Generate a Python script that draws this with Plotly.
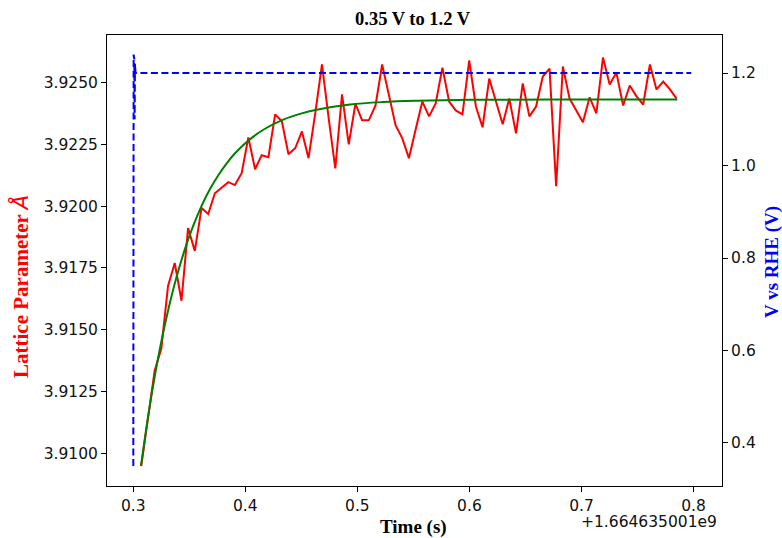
import plotly.graph_objects as go

# ---- data (time relative to offset +1.664635001e9 s) ----
lat_time = [0.3071, 0.3131, 0.3191, 0.3250, 0.3310, 0.3370, 0.3430, 0.3489, 0.3549, 0.3609,
            0.3669, 0.3728, 0.3788, 0.3848, 0.3907, 0.3967, 0.4027, 0.4087, 0.4146, 0.4206,
            0.4266, 0.4326, 0.4385, 0.4445, 0.4505, 0.4564, 0.4624, 0.4684, 0.4744, 0.4803,
            0.4863, 0.4923, 0.4983, 0.5042, 0.5102, 0.5162, 0.5221, 0.5281, 0.5341, 0.5401,
            0.5460, 0.5520, 0.5580, 0.5640, 0.5699, 0.5759, 0.5819, 0.5878, 0.5938, 0.5998,
            0.6058, 0.6117, 0.6177, 0.6237, 0.6297, 0.6356, 0.6416, 0.6476, 0.6535, 0.6595,
            0.6655, 0.6715, 0.6774, 0.6834, 0.6894, 0.6954, 0.7013, 0.7073, 0.7133, 0.7192,
            0.7252, 0.7312, 0.7372, 0.7431, 0.7491, 0.7551, 0.7611, 0.7670, 0.7730, 0.7790,
            0.7849]
lattice = [3.90948, 3.91141, 3.91335, 3.91423, 3.91677, 3.91770, 3.91617, 3.91911, 3.91819, 3.91992,
           3.91968, 3.92052, 3.92073, 3.92097, 3.92085, 3.92133, 3.92278, 3.92149, 3.92206, 3.92198,
           3.92371, 3.92343, 3.92210, 3.92234, 3.92302, 3.92194, 3.92375, 3.92573, 3.92355, 3.92153,
           3.92452, 3.92250, 3.92415, 3.92347, 3.92347, 3.92407, 3.92573, 3.92452, 3.92327, 3.92274,
           3.92194, 3.92310, 3.92423, 3.92363, 3.92415, 3.92560, 3.92423, 3.92387, 3.92371, 3.92589,
           3.92403, 3.92319, 3.92516, 3.92423, 3.92331, 3.92435, 3.92294, 3.92496, 3.92363, 3.92403,
           3.92524, 3.92556, 3.92081, 3.92565, 3.92435, 3.92387, 3.92339, 3.92440, 3.92375, 3.92601,
           3.92492, 3.92540, 3.92407, 3.92488, 3.92444, 3.92411, 3.92573, 3.92472, 3.92504, 3.92472,
           3.92435]

fit_time = [0.30687, 0.31312, 0.31937, 0.32517, 0.33097, 0.33811, 0.34614, 0.35328, 0.36105,
            0.36846, 0.37560, 0.38318, 0.39077, 0.40568, 0.41907, 0.43388, 0.44879, 0.46369,
            0.49342, 0.52287, 0.55295, 0.60052, 0.67192, 0.78554]
fit_lattice = [3.90949, 3.91146, 3.91317, 3.91456, 3.91576, 3.91705, 3.91827, 3.91918, 3.92002,
               3.92069, 3.92123, 3.92172, 3.92214, 3.92276, 3.92317, 3.92350, 3.92373, 3.92390,
               3.92411, 3.92421, 3.92426, 3.92430, 3.92431, 3.92431]

volt_time = [0.3000, 0.3003, 0.3006, 0.3009, 0.3012, 0.3015, 0.3020, 0.3040, 0.7980]
voltage = [0.35, 1.24, 1.08, 1.23, 1.10, 1.22, 1.20, 1.20, 1.20]

left_ticks = [3.9100, 3.9125, 3.9150, 3.9175, 3.9200, 3.9225, 3.9250]
right_ticks = [0.4, 0.6, 0.8, 1.0, 1.2]
x_ticks = [0.3, 0.4, 0.5, 0.6, 0.7, 0.8]

SERIF = "Liberation Serif, Times New Roman, serif"
SANS = "DejaVu Sans, sans-serif"

fig = go.Figure()
fig.add_trace(go.Scatter(x=lat_time, y=lattice, mode="lines",
                         line=dict(color="#ff0000", width=2), yaxis="y"))
fig.add_trace(go.Scatter(x=fit_time, y=fit_lattice, mode="lines", line_shape="spline",
                         line=dict(color="#008000", width=2), yaxis="y"))
fig.add_trace(go.Scatter(x=volt_time, y=voltage, mode="lines",
                         line=dict(color="#0000ff", width=2, dash="7px,3.5px"), yaxis="y2"))

axis_common = dict(showgrid=False, zeroline=False, showline=True, linecolor="#000000",
                   linewidth=1, ticks="outside", ticklen=5, tickwidth=1, tickcolor="#000000",
                   tickfont=dict(family=SANS, size=15.5, color="#111111"))

fig.update_layout(
    width=782, height=538,
    margin=dict(l=107, r=60, t=35, b=52),
    paper_bgcolor="white", plot_bgcolor="white",
    showlegend=False,
    xaxis=dict(range=[0.27653, 0.82544], tickvals=x_ticks, tickformat=".1f",
               mirror=True, **axis_common),
    yaxis=dict(range=[3.908677, 3.926922], tickvals=left_ticks, tickformat=".4f",
               mirror=True, **axis_common),
    yaxis2=dict(range=[0.307, 1.2822], tickvals=right_ticks, tickformat=".1f",
                overlaying="y", side="right", **axis_common),
    annotations=[
        dict(text="<b>0.35 V to 1.2 V</b>", xref="paper", yref="paper", x=0.4976, y=1.035,
             xanchor="center", yanchor="middle", showarrow=False,
             font=dict(family=SERIF, size=18.5, color="black")),
        dict(text="<b>Time (s)</b>", xref="paper", yref="paper", x=0.4976, y=-0.0909,
             xanchor="center", yanchor="middle", showarrow=False,
             font=dict(family=SERIF, size=19, color="black")),
        dict(text="+1.664635001e9", xref="paper", yref="paper", x=0.9951, y=-0.0798,
             xanchor="right", yanchor="middle", showarrow=False,
             font=dict(family=SANS, size=15.5, color="#111111")),
        dict(text="<b>Lattice Parameter </b><span style='font-family:DejaVu Sans'><i>Å</i></span>",
             xref="paper", yref="paper", x=-0.1415, y=0.4435,
             xanchor="center", yanchor="middle", textangle=-90, showarrow=False,
             font=dict(family=SERIF, size=21, color="#ff0000")),
        dict(text="<b>V vs RHE (V)</b>", xref="paper", yref="paper", x=1.0813, y=0.4967,
             xanchor="center", yanchor="middle", textangle=-90, showarrow=False,
             font=dict(family=SERIF, size=19, color="#0000ff")),
    ],
)

fig.write_html("out.html")
